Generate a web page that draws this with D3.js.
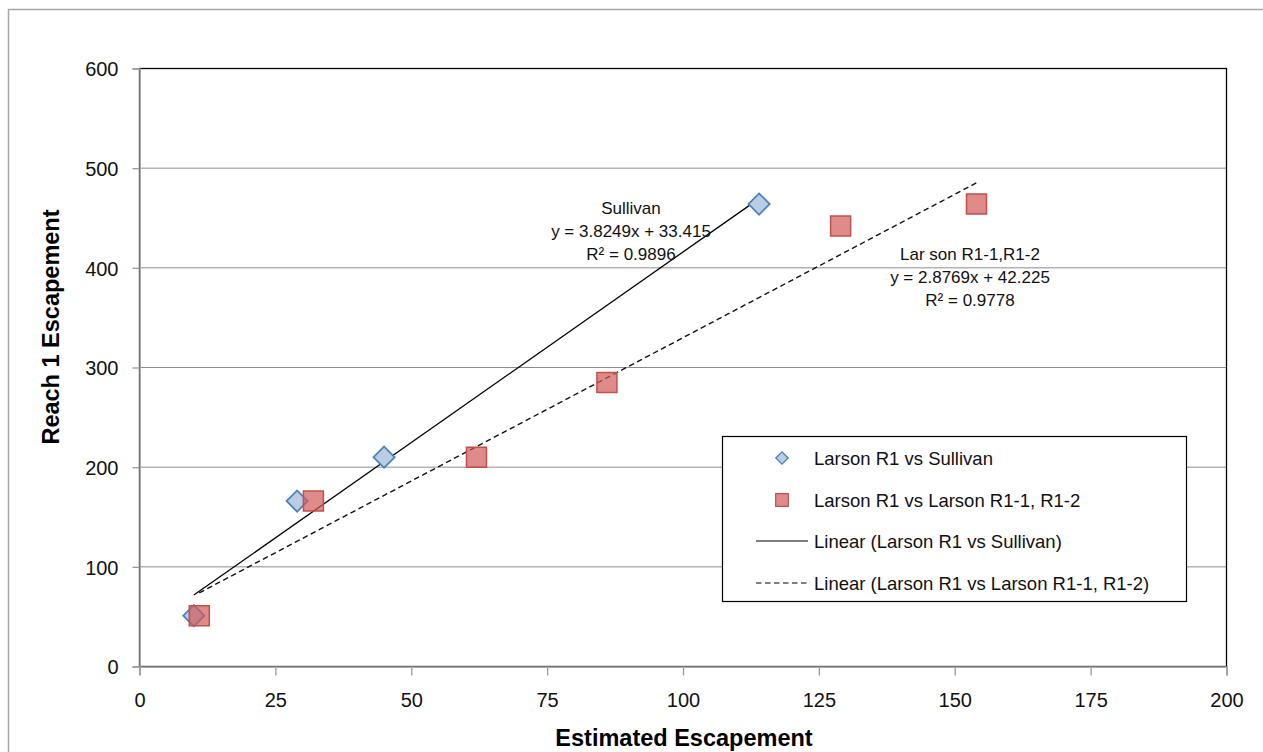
<!DOCTYPE html>
<html>
<head>
<meta charset="utf-8">
<script src="https://cdn.jsdelivr.net/npm/d3@7.9.0/dist/d3.min.js"></script>
<style>
  body { margin: 0; background: #fff; }
  svg { display: block; font-family: "Liberation Sans", Arial, sans-serif; }
</style>
</head>
<body>
<div id="chart"></div>
<script>
// data
const sullivanX = [10, 29, 45, 114];
const sullivanY = [51, 166, 210, 464];
const larsonX = [11, 32, 62, 86, 129, 154];
const larsonY = [51, 166, 210, 285, 442, 464];

// trendline coefficients as printed on the chart
const sullivanFit = { slope: 3.8249, intercept: 33.415 };
const larsonFit = { slope: 2.8769, intercept: 42.225 };

const sullivanLabel = ["Sullivan", "y = 3.8249x + 33.415", "R\u00b2 = 0.9896"];
const larsonLabel = ["Lar son R1-1,R1-2", "y = 2.8769x + 42.225", "R\u00b2 = 0.9778"];

const legendLabels = [
  "Larson R1 vs Sullivan",
  "Larson R1 vs Larson R1-1, R1-2",
  "Linear (Larson R1 vs Sullivan)",
  "Linear (Larson R1 vs Larson R1-1, R1-2)"
];

const xTicks = [0, 25, 50, 75, 100, 125, 150, 175, 200];
const yTicks = [0, 100, 200, 300, 400, 500, 600];

const W = 1263, H = 752;
const blueStroke = "#4f81bd", blueFill = "#b9cde5";
const redStroke = "#c0504d", redFill = "rgba(210,90,88,0.7)";

const svg = d3.select("#chart").append("svg")
  .attr("width", W)
  .attr("height", H);

// outer chart border
svg.append("rect")
  .attr("x", 8.5).attr("y", 9.5)
  .attr("width", W + 20).attr("height", H + 20)
  .attr("fill", "none")
  .attr("stroke", "#a6a6a6")
  .attr("stroke-width", 1.5);

const x = d3.scaleLinear().domain([0, 200]).range([139.5, 1226.5]);
const y = d3.scaleLinear().domain([0, 600]).range([666.5, 68.5]);

// gridlines
svg.append("g")
  .selectAll("line")
  .data(yTicks.filter(d => d > 0 && d < 600))
  .join("line")
  .attr("x1", x(0)).attr("x2", x(200))
  .attr("y1", d => y(d)).attr("y2", d => y(d))
  .attr("stroke", "#8c8c8c")
  .attr("stroke-width", 1);

// plot area border
svg.append("rect")
  .attr("x", x(0)).attr("y", y(600))
  .attr("width", x(200) - x(0))
  .attr("height", y(0) - y(600))
  .attr("fill", "none")
  .attr("stroke", "#000")
  .attr("stroke-width", 1.3);

// axes
const xAxis = svg.append("g")
  .attr("transform", `translate(0,${y(0)})`)
  .call(d3.axisBottom(x).tickValues(xTicks).tickSize(9).tickPadding(17).tickFormat(d3.format("d")));
const yAxis = svg.append("g")
  .attr("transform", `translate(${x(0)},0)`)
  .call(d3.axisLeft(y).tickValues(yTicks).tickSize(7).tickPadding(14).tickFormat(d3.format("d")));

[xAxis, yAxis].forEach(g => {
  g.select(".domain").attr("stroke", "#9a9a9a").attr("stroke-width", 1.5);
  g.selectAll(".tick line").attr("stroke", "#9a9a9a").attr("stroke-width", 1.3);
  g.selectAll(".tick text")
    .attr("fill", "#111")
    .style("font-family", "'Liberation Sans', Arial, sans-serif")
    .style("font-size", "20px");
});
yAxis.selectAll(".tick text").attr("dy", "0.36em");

// axis titles
svg.append("text")
  .attr("x", 684).attr("y", 746)
  .attr("text-anchor", "middle")
  .style("font-size", "23.5px")
  .style("font-weight", "bold")
  .text("Estimated Escapement");

svg.append("text")
  .attr("transform", `translate(59,327) rotate(-90)`)
  .attr("text-anchor", "middle")
  .style("font-size", "23.5px")
  .style("font-weight", "bold")
  .text("Reach 1 Escapement");

// trendlines
function trend(xs, fit) {
  const ext = d3.extent(xs);
  return ext.map(v => [v, fit.slope * v + fit.intercept]);
}
const line = d3.line().x(d => x(d[0])).y(d => y(d[1]));

svg.append("path")
  .datum(trend(sullivanX, sullivanFit))
  .attr("d", line)
  .attr("fill", "none")
  .attr("stroke", "#000")
  .attr("stroke-width", 1.3);

svg.append("path")
  .datum(trend(larsonX, larsonFit))
  .attr("d", line)
  .attr("fill", "none")
  .attr("stroke", "#111")
  .attr("stroke-width", 1.4)
  .attr("stroke-dasharray", "5.5,3.5");

// markers
const diamond = d3.symbol().type(d3.symbolSquare).size(225);
const square = d3.symbol().type(d3.symbolSquare).size(400);

svg.append("g")
  .selectAll("path")
  .data(d3.zip(sullivanX, sullivanY))
  .join("path")
  .attr("d", diamond)
  .attr("transform", d => `translate(${x(d[0])},${y(d[1])}) rotate(45)`)
  .attr("fill", blueFill)
  .attr("stroke", blueStroke)
  .attr("stroke-width", 1.8);

svg.append("g")
  .selectAll("path")
  .data(d3.zip(larsonX, larsonY))
  .join("path")
  .attr("d", square)
  .attr("transform", d => `translate(${x(d[0])},${y(d[1])})`)
  .attr("fill", redFill)
  .attr("stroke", redStroke)
  .attr("stroke-width", 1.5);

// trendline labels
function label(lines, cx, cy) {
  svg.append("g")
    .selectAll("text")
    .data(lines)
    .join("text")
    .attr("x", cx)
    .attr("y", (d, i) => cy + i * 23)
    .attr("text-anchor", "middle")
    .attr("dy", "0.35em")
    .attr("fill", "#111")
    .style("font-size", "17px")
    .text(d => d);
}
label(sullivanLabel, 631, 208);
label(larsonLabel, 970, 254);

// legend
const legend = svg.append("g");
legend.append("rect")
  .attr("x", 722.5).attr("y", 436.5)
  .attr("width", 464).attr("height", 165)
  .attr("fill", "#fff")
  .attr("stroke", "#000")
  .attr("stroke-width", 1.2);

const rowY = [458, 500, 541, 583];
legend.selectAll("text")
  .data(legendLabels)
  .join("text")
  .attr("x", 814)
  .attr("y", (d, i) => rowY[i])
  .attr("dy", "0.36em")
  .attr("fill", "#111")
  .style("font-size", "18.5px")
  .text(d => d);

legend.append("path")
  .attr("d", d3.symbol().type(d3.symbolSquare).size(75))
  .attr("transform", `translate(782,${rowY[0]}) rotate(45)`)
  .attr("fill", blueFill)
  .attr("stroke", blueStroke)
  .attr("stroke-width", 1.4);

legend.append("path")
  .attr("d", d3.symbol().type(d3.symbolSquare).size(160))
  .attr("transform", `translate(782,${rowY[1]})`)
  .attr("fill", redFill)
  .attr("stroke", redStroke)
  .attr("stroke-width", 1.2);

legend.append("line")
  .attr("x1", 756).attr("x2", 808)
  .attr("y1", rowY[2]).attr("y2", rowY[2])
  .attr("stroke", "#000").attr("stroke-width", 1.2);

legend.append("line")
  .attr("x1", 756).attr("x2", 808)
  .attr("y1", rowY[3]).attr("y2", rowY[3])
  .attr("stroke", "#000").attr("stroke-width", 1.2)
  .attr("stroke-dasharray", "5.5,3.5");
</script>
</body>
</html>
